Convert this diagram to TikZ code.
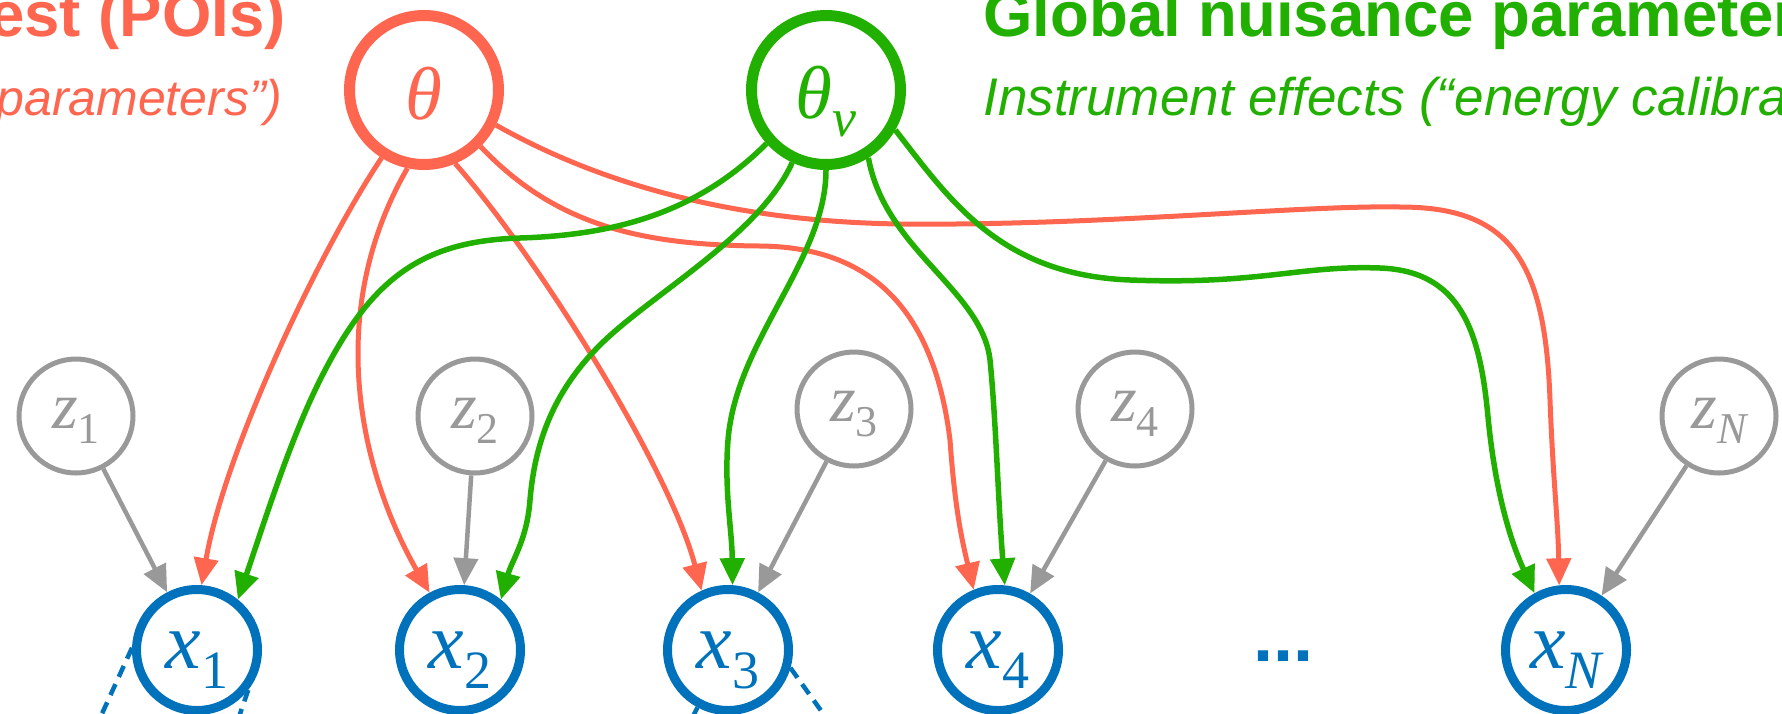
\documentclass[tikz,border=0pt]{standalone}
\usepackage{fontspec}
\setmainfont{Liberation Serif}
\newfontfamily\helv{Liberation Sans}
\usetikzlibrary{arrows.meta}

\definecolor{poicol}{HTML}{FF6650}
\definecolor{nuicol}{HTML}{22B000}
\definecolor{obscol}{HTML}{0072BB}
\definecolor{latcol}{HTML}{999999}

\newcommand\fsz[1]{\fontsize{#1pt}{#1pt}\selectfont}
\newcommand\obsvar[1]{{\fsz{40}\itshape x}\raisebox{-10pt}{\fsz{27}#1}}
\newcommand\latvar[1]{{\fsz{33}\itshape z}\raisebox{-7.5pt}{\fsz{22}#1}}

\begin{document}
\begin{tikzpicture}[x=0.5pt, y=-0.5pt,
  arrowhd/.style={-{Triangle[length=13.5pt,width=12pt]}},
  globnode/.style={circle, draw=#1, line width=5.5pt, minimum size=74.5pt, inner sep=0pt},
  obsnode/.style={circle, draw=obscol, line width=4.5pt, minimum size=60.5pt, inner sep=0pt},
  latnode/.style={circle, draw=latcol, line width=2.5pt, minimum size=57pt, inner sep=0pt},
  vartext/.style={text=#1, inner sep=0pt},
  poiedge/.style={arrowhd, draw=poicol, line width=2.5pt},
  nuiedge/.style={arrowhd, draw=nuicol, line width=2.75pt},
  latedge/.style={arrowhd, draw=latcol, line width=2.25pt},
  plateedge/.style={draw=obscol, line width=2.25pt, dash pattern=on 6pt off 4pt},
  titlefont/.style={inner sep=0pt, font={\helv\bfseries\fsz{31.75}}},
  notefont/.style={inner sep=0pt, font={\helv\itshape\fsz{#1}}},
  ]
\useasboundingbox (0,0) rectangle (1782,713);
\clip (0,0) rectangle (1782,713);

% headings
\node[titlefont, text=poicol, anchor=base east] (poititle) at (286,36) {est (POIs)};
\node[notefont=25, text=poicol, anchor=base east] (poinote) at (283,115) {parameters”)};
\node[titlefont, text=nuicol, anchor=base west] (nuititle) at (983,36) {Global nuisance parameter};
\node[notefont=26.5, text=nuicol, anchor=base west] (nuinote) at (983,115) {Instrument effects (“energy calibra};

% global parameters
\node[globnode=poicol] (th) at (424,90) {};
\node[globnode=nuicol] (tn) at (826,90) {};
\node[vartext=poicol] (thl) at ([yshift=-2pt]th.center) {\fsz{37.5}\itshape θ};
\node[vartext=nuicol] (tnl) at ([yshift=-6pt]tn.center) {{\fsz{37.5}\itshape θ}\raisebox{-9pt}{\fsz{27}\itshape ν}};

% latent variables
\node[latnode] (z1) at (76,416) {};
\node[latnode] (z2) at (475,416) {};
\node[latnode] (z3) at (854,409) {};
\node[latnode] (z4) at (1135,409) {};
\node[latnode] (zN) at (1719,416) {};
\foreach \n/\s in {1/1, 2/2, 3/3, 4/4, N/\itshape N}
  \node[vartext=latcol] (z\n l) at ([yshift=-2.5pt]z\n.center) {\latvar{\s}};

% observations
\node[obsnode] (x1) at (197,650) {};
\node[obsnode] (x2) at (460,650) {};
\node[obsnode] (x3) at (728,650) {};
\node[obsnode] (x4) at (998,650) {};
\node[obsnode] (xN) at (1566,650) {};
\foreach \n/\s in {1/1, 2/2, 3/3, 4/4, N/\itshape N}
  \node[vartext=obscol] (x\n l) at ([yshift=-5pt]x\n.center) {\obsvar{\s}};
\node[inner sep=0pt, text=obscol, font={\helv\bfseries\fsz{36}}, anchor=base] (dots) at (1283,661) {...};

% parameters of interest
\draw[poiedge] (th.-122) .. controls (320,250) and (225,450) .. (x1.86);
\draw[poiedge] (th.-102) .. controls (320,320) and (365,480) .. (x2.118);
\draw[poiedge] (th.-67) .. controls (540,260) and (670,470) .. (x3.114);
\draw[poiedge] (th.-45) .. controls (555,225) and (640,245) .. (760,246)
  .. controls (880,247) and (935,320) .. (950,440)
  .. controls (955,510) and (962,540) .. (x4.112);
\draw[poiedge] (th.-26) .. controls (620,195) and (760,222) .. (900,224)
  .. controls (1100,226) and (1300,205) .. (1400,207)
  .. controls (1510,207) and (1545,260) .. (1550,400)
  .. controls (1553,480) and (1558,520) .. (xN.96);

% nuisance parameters
\draw[nuiedge] (tn.-138) .. controls (700,210) and (620,235) .. (520,238)
  .. controls (420,241) and (370,280) .. (320,380)
  .. controls (290,440) and (265,520) .. (x1.51);
\draw[nuiedge] (tn.-115) .. controls (760,235) and (650,295) .. (600,345)
  .. controls (555,390) and (535,440) .. (530,500)
  .. controls (527,540) and (512,560) .. (x2.51);
\draw[nuiedge] (tn.-90) .. controls (826,260) and (736,340) .. (728,440)
  .. controls (724,490) and (732,530) .. (x3.86);
\draw[nuiedge] (tn.-58) .. controls (885,250) and (982,290) .. (990,360)
  .. controls (996,420) and (998,500) .. (x4.84);
\draw[nuiedge] (tn.-30) .. controls (950,200) and (1000,275) .. (1130,280)
  .. controls (1260,285) and (1300,265) .. (1380,268)
  .. controls (1460,271) and (1480,330) .. (1488,417)
  .. controls (1495,490) and (1510,540) .. (xN.119);

% local latent variables
\foreach \n in {1,2,3,4,N}
  \draw[latedge] (z\n) -- (x\n);

% links leaving the frame below
\coordinate (d1a) at (90,740);
\coordinate (d1b) at (231,740);
\coordinate (d3a) at (680,742);
\coordinate (d3b) at (842,740);
\draw[plateedge] (x1.178) -- (d1a);
\draw[plateedge] (x1.-38) -- (d1b);
\draw[plateedge] (x3.-118) -- (d3a);
\draw[plateedge] (x3.-16) -- (d3b);
\end{tikzpicture}
\end{document}
